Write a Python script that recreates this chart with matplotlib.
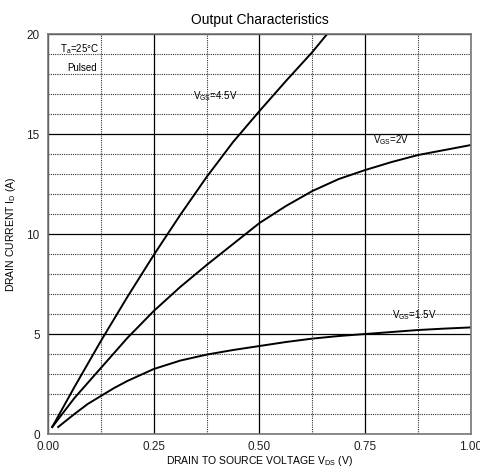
import matplotlib
matplotlib.use("Agg")
import matplotlib.pyplot as plt
from matplotlib.ticker import MultipleLocator

plt.rcParams['font.family'] = ['Liberation Sans', 'DejaVu Sans']
plt.rcParams['mathtext.fontset'] = 'custom'
plt.rcParams['mathtext.rm'] = 'Liberation Sans'
plt.rcParams['mathtext.it'] = 'Liberation Sans'

# values
vds_45 = [0.01, 0.0625, 0.125, 0.1875, 0.25, 0.3125, 0.375, 0.4375, 0.5, 0.5625, 0.625, 0.66]
id_45 = [0.35, 2.35, 4.65, 6.85, 8.95, 10.95, 12.85, 14.6, 16.15, 17.65, 19.1, 20.0]

vds_2 = [0.01, 0.0625, 0.125, 0.1875, 0.25, 0.3125, 0.375, 0.4375, 0.5, 0.5625,
         0.625, 0.6875, 0.75, 0.8125, 0.875, 0.9375, 1.0]
id_2 = [0.35, 1.8, 3.3, 4.8, 6.15, 7.35, 8.45, 9.5, 10.55, 11.4,
        12.15, 12.75, 13.2, 13.6, 13.95, 14.2, 14.45]

vds_15 = [0.024, 0.0625, 0.0938, 0.125, 0.1563, 0.1875, 0.25, 0.3125, 0.375, 0.4375, 0.5, 0.5625,
          0.625, 0.6875, 0.75, 0.8125, 0.875, 0.9375, 1.0]
id_15 = [0.35, 1.0, 1.5, 1.9, 2.3, 2.65, 3.25, 3.67, 3.97, 4.2, 4.4, 4.6,
         4.77, 4.9, 5.0, 5.1, 5.2, 5.27, 5.33]

x_ticks = [0.0, 0.25, 0.5, 0.75, 1.0]
x_labels = ["0.00", "0.25", "0.50", "0.75", "1.00"]
y_ticks = [0, 5, 10, 15, 20]

fig = plt.figure(figsize=(4.81, 4.75), dpi=100)
ax = fig.add_axes([0.0998, 0.0863, 0.8794, 0.8421])

ax.plot(vds_45, id_45, color='black', lw=1.4)
ax.plot(vds_2, id_2, color='black', lw=1.4)
ax.plot(vds_15, id_15, color='black', lw=1.4)

ax.set_xlim(0, 1)
ax.set_ylim(0, 20)
ax.set_xticks(x_ticks)
ax.set_xticklabels(x_labels)
ax.set_yticks(y_ticks)
ax.xaxis.set_minor_locator(MultipleLocator(0.125))
ax.yaxis.set_minor_locator(MultipleLocator(1))
ax.grid(which='major', color='black', lw=0.9)
ax.grid(which='minor', color='#333333', lw=0.8, ls=(0, (1, 1)))
ax.set_axisbelow(True)
ax.tick_params(which='both', length=0, labelsize=8.5, colors='#222222')
ax.tick_params(axis='x', pad=5)
ax.tick_params(axis='y', pad=6)
for s in ax.spines.values():
    s.set_color('#777777')
    s.set_linewidth(1.2)

ax.set_title("Output Characteristics", fontsize=10, pad=7)
ax.set_xlabel(r"DRAIN TO SOURCE VOLTAGE V$_{\mathrm{DS}}$ (V)", fontsize=7.5, labelpad=1)
ax.set_ylabel(r"DRAIN CURRENT I$_{\mathrm{D}}$ (A)", fontsize=7.5, labelpad=6)

ax.text(0.028, 19.25, r"T$_{\mathrm{a}}$=25°C", fontsize=7, va='center')
ax.text(0.08, 18.3, "Pulsed", fontsize=7, va='center', ha='center')
ax.text(0.343, 16.9, r"V$_{\mathrm{GS}}$=4.5V", fontsize=7, va='center')
ax.text(0.768, 14.7, r"V$_{\mathrm{GS}}$=2V", fontsize=7, va='center')
ax.text(0.813, 5.95, r"V$_{\mathrm{GS}}$=1.5V", fontsize=7, va='center')

fig.savefig("out.png", dpi=100)
